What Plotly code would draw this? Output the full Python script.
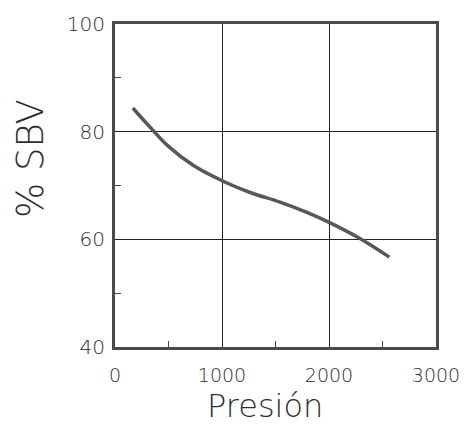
import plotly.graph_objects as go

pressure = [167, 260, 362, 492, 734, 1031, 1263, 1542, 1793, 2006, 2285, 2564]
sbv = [84.4, 82.3, 80.1, 77.4, 73.7, 70.6, 68.7, 66.9, 65.0, 63.1, 60.2, 56.7]
x_ticks = [0, 1000, 2000, 3000]
y_ticks = [40, 60, 80, 100]
x_title = "Presión"
y_title = "% SBV"

ink = "#2e2e2e"
font_family = "DejaVu Sans, sans-serif"

fig = go.Figure()
fig.add_trace(go.Scatter(
    x=pressure, y=sbv, mode="lines",
    line=dict(color="#585858", width=3.5, shape="spline", smoothing=1.0),
    hoverinfo="skip", showlegend=False,
))

# page has an 8px body margin, so the figure is sized/offset to compensate
fig.update_layout(
    width=459, height=419,
    margin=dict(l=107, r=31, t=16, b=80, autoexpand=False),
    paper_bgcolor="white", plot_bgcolor="white",
    font=dict(family=font_family, color=ink),
    xaxis=dict(
        range=[0, 3000], tickvals=x_ticks, ticktext=[str(v) for v in x_ticks],
        showgrid=True, gridcolor="#222", gridwidth=1.2,
        showline=True, linecolor="#4a4a4a", linewidth=3, mirror=True,
        ticks="", ticklabelstandoff=9, automargin=False,
        tickfont=dict(size=19, family=font_family, color=ink, weight=300),
        minor=dict(tickvals=[500, 1500, 2500], ticks="inside", ticklen=6,
                   tickcolor="#444", tickwidth=1, showgrid=False),
        zeroline=False,
    ),
    yaxis=dict(
        range=[40, 100], tickvals=y_ticks, ticktext=[str(v) for v in y_ticks],
        showgrid=True, gridcolor="#222", gridwidth=1.2,
        showline=True, linecolor="#4a4a4a", linewidth=3, mirror=True,
        ticks="", ticklabelstandoff=3, automargin=False,
        tickfont=dict(size=20, family=font_family, color=ink, weight=300),
        minor=dict(tickvals=[50, 70, 90], ticks="inside", ticklen=6,
                   tickcolor="#444", tickwidth=1, showgrid=False),
        zeroline=False,
    ),
    annotations=[
        dict(text=x_title, xref="paper", yref="paper", x=0.467, y=-0.182,
             xanchor="center", yanchor="middle", showarrow=False,
             font=dict(size=32, family=font_family, color=ink, weight=300)),
        dict(text=y_title, xref="paper", yref="paper", x=-0.265, y=0.585,
             xanchor="center", yanchor="middle", showarrow=False, textangle=-90,
             font=dict(size=37, family=font_family, color=ink, weight=300)),
    ],
)

fig.write_html("out.html")
